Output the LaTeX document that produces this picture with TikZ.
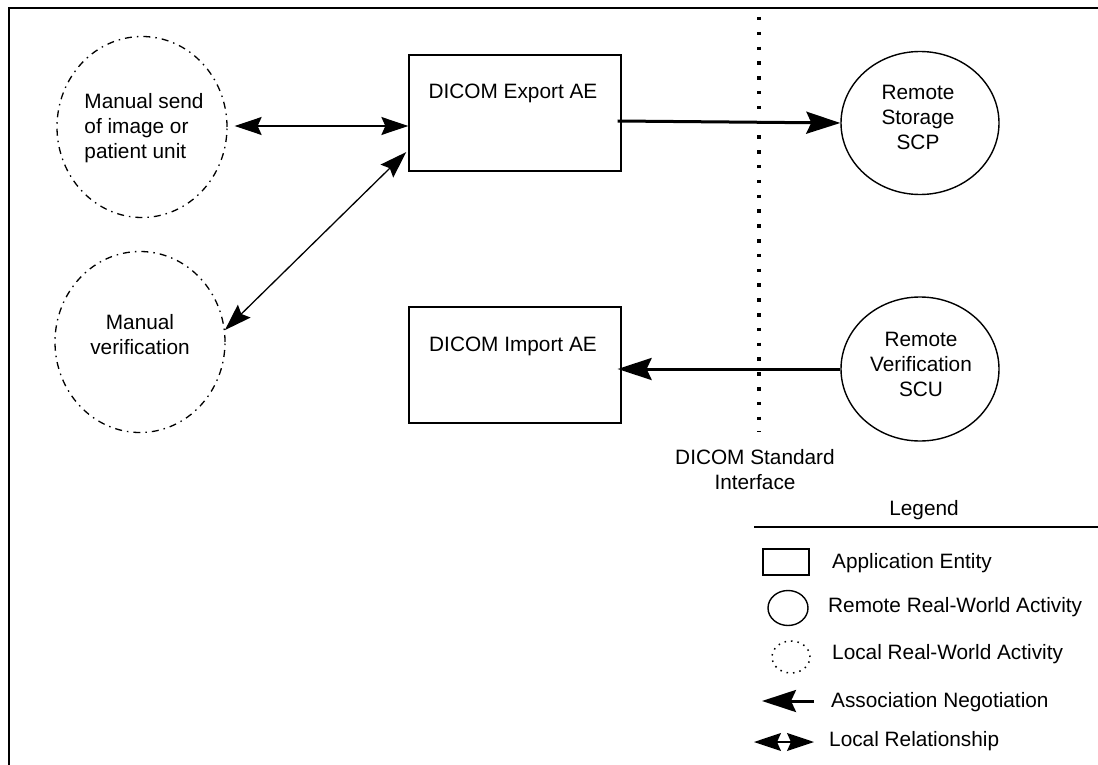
\documentclass[tikz,border=0pt]{standalone}
\usepackage{fontspec}
\setmainfont{Liberation Sans}
\usetikzlibrary{arrows.meta,shapes.geometric}

\tikzset{
  txt/.style={inner sep=0pt},
  localact/.style={ellipse,draw,inner sep=0pt,line width=1.3pt,
    dash pattern=on 7pt off 5pt on 1.5pt off 5pt},
  remoteact/.style={ellipse,draw,inner sep=0pt,line width=1.4pt},
  appent/.style={rectangle,draw,inner sep=0pt,line width=1.3pt},
  assoc/.style={line width=3pt,-{Stealth[length=34pt,width=22pt,inset=5pt]}},
  localrel/.style={line width=1.3pt,
    {Stealth[length=27pt,width=18pt,inset=4pt]}-{Stealth[length=27pt,width=18pt,inset=4pt]}}
}

\begin{document}
\begin{tikzpicture}[x=1pt,y=-1pt,font=\fontsize{20.8}{25}\selectfont]
        \useasboundingbox (0,0) rectangle (1098,765);
        \draw [line width=1.5pt] (9,765) -- (9,8) -- (1098,8);
        % local activities
        \node (send) [localact,minimum width=170pt,minimum height=181pt] at (142,127) {};
        \node (sendlbl) [txt,align=left] at (144,128) {Manual send\\of image or\\patient unit};
        \node (verif) [localact,minimum width=170pt,minimum height=181pt] at (140,342) {};
        \node (veriflbl) [txt,align=center] at (140,335) {Manual\\verification};
        % application entities
        \node (export) [appent,minimum width=212pt,minimum height=116pt] at (515,113) {};
        \node (exportlbl) [txt,anchor=base] at (513,99) {DICOM Export AE};
        \node (import) [appent,minimum width=212pt,minimum height=116pt] at (515,365) {};
        \node (importlbl) [txt,anchor=base] at (513,351) {DICOM Import AE};
        % remote activities
        \node (storage) [remoteact,minimum width=158pt,minimum height=143pt] at (920,123) {};
        \node (storagelbl) [txt,align=center] at (918,117) {Remote\\Storage\\SCP};
        \node (scu) [remoteact,minimum width=158pt,minimum height=144pt] at (920,369) {};
        \node (sculbl) [txt,align=center] at (921,364) {Remote\\Verification\\SCU};
        % connectors
        \draw [localrel,shorten <=7pt] (send.east |- 0,126) -- (export.west |- 0,126);
        \draw [localrel,shorten <=3pt] ([yshift=-37pt]export.west) -- (verif.8);
        \draw [assoc] ([xshift=-4pt,yshift=-8pt]export.east) -- (storage.west);
        \draw [assoc,shorten >=-4pt] (scu.west) -- (scu.west -| import.east);
        % standard interface
        \coordinate (ifctop) at (759,17);
        \coordinate (ifcbot) at (759,432);
        \draw [line width=3.5pt,dash pattern=on 3.5pt off 11.3pt] (ifctop) -- (ifcbot);
        \node (ifclbl) [txt,align=center,anchor=north] at (755,449) {DICOM Standard\\Interface};
        % legend
        \node (legendlbl) [txt,anchor=base] at (924,515) {Legend};
        \coordinate (legl) at (754,527);
        \coordinate (legr) at (1098,527);
        \draw [line width=1.8pt] (legl) -- (legr);
        \node (legae) [appent,minimum width=46pt,minimum height=26pt] at (786,562) {};
        \node (legaelbl) [txt,anchor=west] at (832,563) {Application Entity};
        \node (legrem) [remoteact,minimum width=40pt,minimum height=35pt] at (788,608) {};
        \node (legremlbl) [txt,anchor=west] at (828,607) {Remote Real-World Activity};
        \node (legloc) [ellipse,draw,inner sep=0pt,line width=1.5pt,dash pattern=on 1.5pt off 5pt,
          minimum width=38pt,minimum height=32pt] at (791,657) {};
        \node (leglocllbl) [txt,anchor=west] at (832,654) {Local Real-World Activity};
        \coordinate (legassocr) at (814,701);
        \coordinate (legassocl) at (762,701);
        \draw [assoc] (legassocr) -- (legassocl);
        \node (legassoclbl) [txt,anchor=west] at (831,702) {Association Negotiation};
        \coordinate (legrell) at (754,742);
        \coordinate (legrelr) at (814,742);
        \draw [localrel] (legrell) -- (legrelr);
        \node (legrellbl) [txt,anchor=west] at (829,741) {Local Relationship};
    \end{tikzpicture}
\end{document}
